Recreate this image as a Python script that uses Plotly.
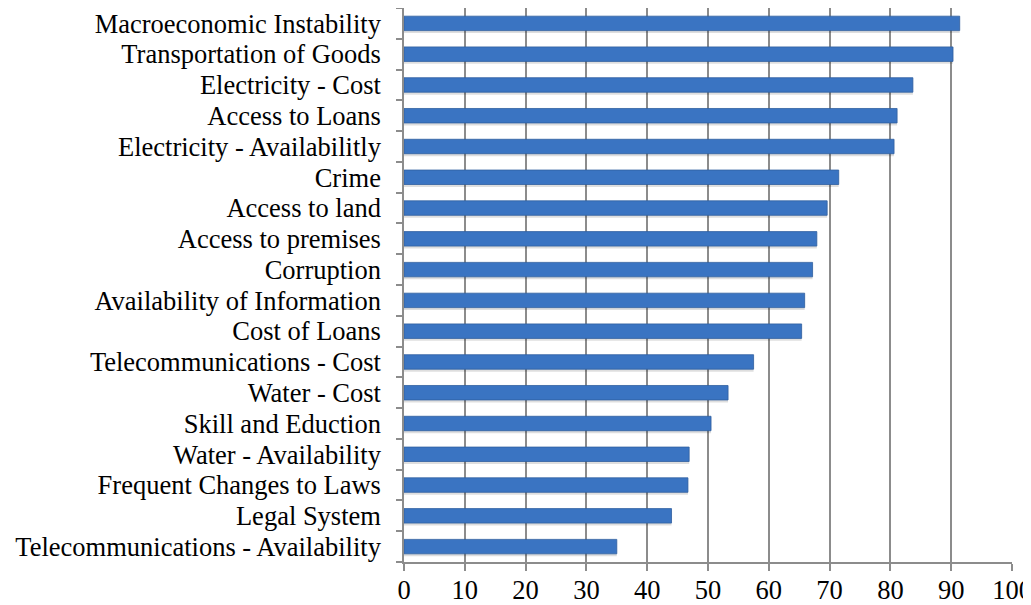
import plotly.graph_objects as go

categories = [
    "Macroeconomic Instability",
    "Transportation of Goods",
    "Electricity - Cost",
    "Access to Loans",
    "Electricity - Availabilitly",
    "Crime",
    "Access to land",
    "Access to premises",
    "Corruption",
    "Availability of Information",
    "Cost of Loans",
    "Telecommunications - Cost",
    "Water - Cost",
    "Skill and Eduction",
    "Water - Availability",
    "Frequent Changes to Laws",
    "Legal System",
    "Telecommunications - Availability",
]
values = [91.4, 90.3, 83.7, 81.1, 80.6, 71.5, 69.6, 67.9, 67.2, 65.9,
          65.4, 57.5, 53.3, 50.5, 46.9, 46.7, 44.0, 35.0]
x_ticks = [0, 10, 20, 30, 40, 50, 60, 70, 80, 90, 100]

fig = go.Figure()
# soft drop shadow under each bar
fig.add_trace(go.Bar(
    y=categories, x=values, orientation="h",
    width=0.47, offset=-0.235 + 0.08,
    marker=dict(color="rgba(0,0,0,0.13)", line=dict(width=0)),
    showlegend=False, hoverinfo="skip",
))
fig.add_trace(go.Bar(
    y=categories, x=values, orientation="h",
    width=0.47, offset=-0.235,
    marker=dict(color="#3a74c2", line=dict(color="#30609f", width=0.8)),
    showlegend=False,
))

font = dict(family="Liberation Serif, Times New Roman, serif", size=26.5, color="#000000")
# the page body has an 8px default margin, so the figure is sized/offset to compensate
fig.update_layout(
    width=1023, height=597,
    margin=dict(l=396, r=19, t=0, b=43),
    paper_bgcolor="white", plot_bgcolor="white",
    font=font, barmode="overlay",
)
fig.update_xaxes(
    range=[0, 100], tickvals=x_ticks, automargin=False,
    showgrid=True, gridcolor="#8c8c8c", gridwidth=1.5,
    showline=True, linecolor="#8c8c8c", linewidth=1.5,
    ticks="outside", ticklen=7, tickcolor="#8c8c8c", tickwidth=1.5,
    zeroline=False, tickfont=font, ticklabelstandoff=-4,
    ticklabeloverflow="allow",
)
fig.update_yaxes(
    categoryorder="array", categoryarray=categories,
    tickmode="array", tickvals=categories,
    autorange="reversed", automargin=False,
    showline=True, linecolor="#8c8c8c", linewidth=1.5,
    ticks="outside", ticklen=6, tickcolor="#8c8c8c", tickwidth=1.5,
    tickson="boundaries", showgrid=False,
    ticklabelstandoff=16, tickfont=font,
)
fig.write_html("out.html")
